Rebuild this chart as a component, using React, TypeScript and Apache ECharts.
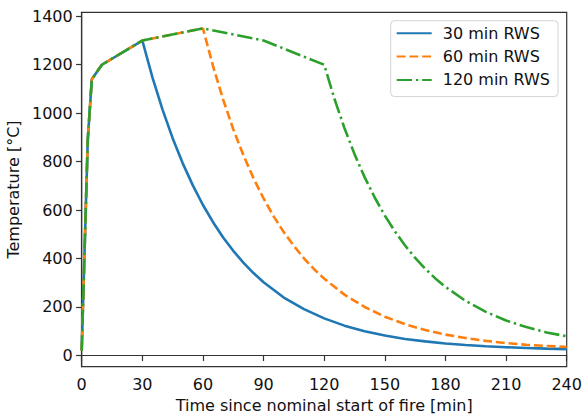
import React, { useEffect, useRef } from "react";
import * as echarts from "echarts";

// Shared RWS heating curve (time in min, temperature in °C)
const heatTimes = [0, 3, 5, 10, 30, 60, 90, 120];
const heatTemps = [20, 890, 1140, 1200, 1300, 1350, 1300, 1200];

// Cooling branches
const cool30Times = [30, 35, 40, 45, 50, 55, 60, 65, 70, 75, 80, 85, 90, 100, 110, 120, 130, 140, 150, 160, 170, 180, 190, 200, 210, 220, 230, 240];
const cool30Temps = [1300, 1148, 1015, 897, 793, 702, 621, 550, 487, 432, 383, 340, 302, 239, 191, 153, 123, 100, 82, 68, 58, 49, 43, 38, 34, 31, 28, 26];

const cool60Times = [60, 65, 70, 75, 80, 85, 90, 95, 100, 105, 110, 115, 120, 130, 140, 150, 160, 170, 180, 190, 200, 210, 220, 230, 240];
const cool60Temps = [1350, 1194, 1056, 934, 827, 732, 648, 574, 509, 452, 401, 356, 317, 251, 200, 160, 129, 105, 86, 72, 60, 51, 44, 39, 35];

const cool120Times = [120, 125, 130, 135, 140, 145, 150, 155, 160, 165, 170, 175, 180, 190, 200, 210, 220, 230, 240];
const cool120Temps = [1200, 1061, 939, 831, 736, 652, 577, 512, 454, 403, 358, 318, 283, 225, 180, 144, 117, 95, 79];

const seriesNames = ["30 min RWS", "60 min RWS", "120 min RWS"];
const xTicks = [0, 30, 60, 90, 120, 150, 180, 210, 240];
const yTicks = [0, 200, 400, 600, 800, 1000, 1200, 1400];

function buildCurve(end: number, times: number[], temps: number[]): number[][] {
  const pts: number[][] = [];
  heatTimes.forEach((t, i) => {
    if (t < end) pts.push([t, heatTemps[i]]);
  });
  times.forEach((t, i) => pts.push([t, temps[i]]));
  return pts;
}

const FONT = "DejaVu Sans";
const AXIS = "#333333";
const TEXT = "#111111";

export default function App() {
  const ref = useRef<HTMLDivElement>(null);
  useEffect(() => {
    if (!ref.current) return;
    const chart = echarts.init(ref.current, undefined, { renderer: "svg" });
    const lw = 2.6;
    chart.setOption({
      animation: false,
      backgroundColor: "#ffffff",
      textStyle: { fontFamily: FONT },
      grid: {
        left: 81.7,
        right: 15.3,
        top: 12.3,
        bottom: 48.3,
        containLabel: false,
        outerBoundsMode: "none",
        show: true,
        borderColor: AXIS,
        borderWidth: 1.2,
        backgroundColor: "transparent",
      },
      legend: {
        orient: "vertical",
        left: 390.7,
        top: 20.7,
        data: seriesNames,
        itemWidth: 35,
        itemHeight: 16,
        itemGap: 7.3,
        padding: [4.6, 8, 8.7, 5],
        borderColor: "#d4d4d4",
        borderWidth: 1,
        borderRadius: 4,
        backgroundColor: "#ffffff",
        itemStyle: { opacity: 0 },
        textStyle: {
          fontFamily: FONT,
          fontSize: 16,
          lineHeight: 16,
          color: TEXT,
          padding: [0, 0, 0, 6],
        },
      },
      xAxis: {
        type: "value",
        min: 0,
        max: 240,
        interval: 30,
        name: "Time since nominal start of fire [min]",
        nameLocation: "middle",
        nameGap: 28,
        nameTextStyle: { fontFamily: FONT, fontSize: 16, lineHeight: 16, color: TEXT },
        axisLine: { show: true, lineStyle: { color: AXIS, width: 1.2 } },
        axisTick: { show: true, length: 5.6, lineStyle: { color: AXIS, width: 1.2 }, customValues: xTicks },
        axisLabel: {
          fontFamily: FONT, fontSize: 16, lineHeight: 16, color: TEXT, margin: 10,
          customValues: xTicks, formatter: (v: number) => String(v),
        },
        splitLine: { show: false },
      },
      yAxis: {
        type: "value",
        min: -46.5,
        max: 1416.5,
        name: "Temperature [°C]",
        nameLocation: "middle",
        nameGap: 55,
        nameTextStyle: { fontFamily: FONT, fontSize: 16, lineHeight: 16, color: TEXT },
        axisLine: { show: true, lineStyle: { color: AXIS, width: 1.2 } },
        axisTick: { show: true, length: 5.6, lineStyle: { color: AXIS, width: 1.2 }, customValues: yTicks },
        axisLabel: {
          fontFamily: FONT, fontSize: 16, lineHeight: 16, color: TEXT, margin: 9,
          customValues: yTicks, formatter: (v: number) => String(v),
        },
        splitLine: { show: false },
      },
      series: [
        {
          name: seriesNames[0],
          type: "line",
          data: buildCurve(30, cool30Times, cool30Temps),
          showSymbol: false,
          symbol: "none",
          lineStyle: { color: "#1f77b4", width: lw, type: "solid" },
          itemStyle: { color: "#1f77b4" },
        },
        {
          name: seriesNames[1],
          type: "line",
          data: buildCurve(60, cool60Times, cool60Temps),
          showSymbol: false,
          symbol: "none",
          lineStyle: { color: "#ff7f0e", width: lw, type: [8.9, 3.84], cap: "butt" },
          itemStyle: { color: "#ff7f0e" },
        },
        {
          name: seriesNames[2],
          type: "line",
          data: buildCurve(120, cool120Times, cool120Temps),
          showSymbol: false,
          symbol: "none",
          lineStyle: { color: "#2ca02c", width: lw, type: [15.4, 3.84, 2.4, 3.84], cap: "butt" },
          itemStyle: { color: "#2ca02c" },
        },
      ],
    });
    return () => chart.dispose();
  }, []);
  return (
    <div
      ref={ref}
      style={{ position: "fixed", left: 0, top: 0, width: 582, height: 415 }}
    />
  );
}
